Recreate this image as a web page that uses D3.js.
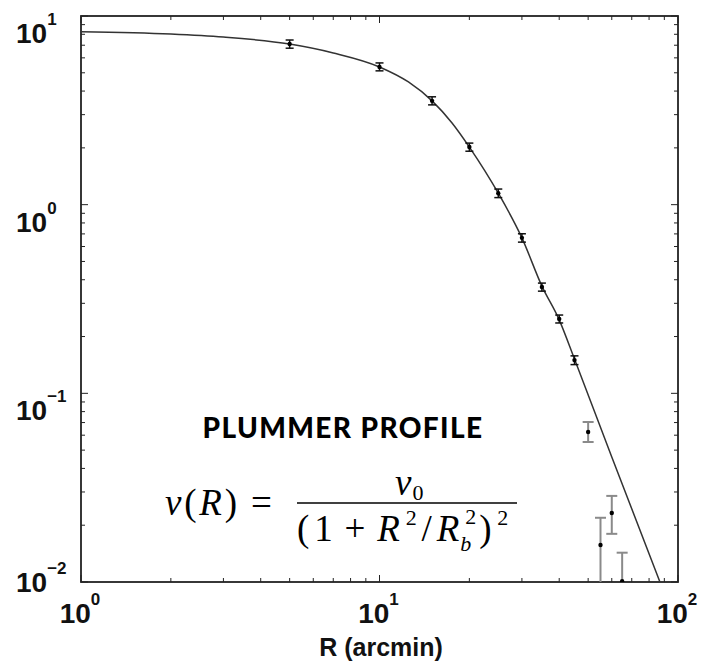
<!DOCTYPE html>
<html>
<head>
<meta charset="utf-8">
<script src="https://cdn.jsdelivr.net/npm/d3@7"></script>
<style>
  html, body { margin: 0; padding: 0; background: #fff; }
  svg { display: block; }
</style>
</head>
<body>
<svg id="chart" width="703" height="667"></svg>
<script>
// Observed surface density profile (radius in arcmin)
const radii     = [5, 10, 15, 20, 25, 30, 35, 40, 45, 50, 55, 60, 65];
const density   = [7.1, 5.37, 3.55, 2.02, 1.15, 0.667, 0.366, 0.248, 0.150, 0.0624, 0.0157, 0.0232, 0.0101];
const errLower  = [6.75, 5.12, 3.38, 1.92, 1.09, 0.633, 0.348, 0.236, 0.142, 0.0552, 0.001, 0.0180, 0.001];
const errUpper  = [7.46, 5.64, 3.73, 2.12, 1.21, 0.701, 0.384, 0.260, 0.158, 0.0705, 0.0219, 0.0286, 0.0143];
// Points from this radius outward carry grey error bars
const faintFrom = 50;

// Fitted Plummer model, sampled along the curve
const modelR   = [1, 2, 3, 5, 7, 10, 12.5, 15, 17.5, 20, 25, 30, 35, 40, 45, 60, 87];
const modelNu  = [8.26, 8.03, 7.74, 7.1, 6.37, 5.37, 4.47, 3.55, 2.71, 2.02, 1.15, 0.667, 0.37, 0.245, 0.152, 0.046, 0.01];

// Decade labels
const xDecades = [0, 1, 2];
const yDecades = [-2, -1, 0, 1];
const xTitle = "R (arcmin)";
const profileTitle = "PLUMMER PROFILE";

const svg = d3.select("#chart");
const m = { left: 81, top: 16, right: 678, bottom: 582 };

const x = d3.scaleLog().domain([1, 100]).range([m.left, m.right]);
const y = d3.scaleLog().domain([0.01, 10]).range([m.bottom, m.top]);

svg.append("defs").append("clipPath").attr("id", "plot-clip")
  .append("rect")
  .attr("x", m.left).attr("y", m.top)
  .attr("width", m.right - m.left).attr("height", m.bottom - m.top);

// Ticks on all four sides, pointing inward
const tickG = svg.append("g").attr("stroke", "#222").attr("stroke-width", 1);
const isMajor = v => Math.abs(Math.log10(v) - Math.round(Math.log10(v))) < 1e-9;
x.ticks().forEach(v => {
  const px = x(v), len = isMajor(v) ? 7 : 4;
  tickG.append("line").attr("x1", px).attr("x2", px).attr("y1", m.bottom).attr("y2", m.bottom - len);
  tickG.append("line").attr("x1", px).attr("x2", px).attr("y1", m.top).attr("y2", m.top + len);
});
y.ticks().forEach(v => {
  const py = y(v), len = isMajor(v) ? 7 : 4;
  tickG.append("line").attr("x1", m.left).attr("x2", m.left + len).attr("y1", py).attr("y2", py);
  tickG.append("line").attr("x1", m.right).attr("x2", m.right - len).attr("y1", py).attr("y2", py);
});

// Frame
svg.append("rect")
  .attr("x", m.left).attr("y", m.top)
  .attr("width", m.right - m.left).attr("height", m.bottom - m.top)
  .attr("fill", "none").attr("stroke", "#222").attr("stroke-width", 1.8);

const plot = svg.append("g").attr("clip-path", "url(#plot-clip)");

// Model curve
const line = d3.line()
  .x(d => x(d))
  .y((d, i) => y(modelNu[i]))
  .curve(d3.curveMonotoneX);
plot.append("path")
  .attr("d", line(modelR))
  .attr("fill", "none")
  .attr("stroke", "#333")
  .attr("stroke-width", 1.5);

// Error bars and points
radii.forEach((r, i) => {
  const px = x(r);
  const faint = r >= faintFrom;
  const capW = faint ? 5.5 : 4;
  const g = plot.append("g")
    .attr("stroke", faint ? "#8a8a8a" : "#111")
    .attr("stroke-width", faint ? 2 : 1.5);
  g.append("line").attr("x1", px).attr("x2", px).attr("y1", y(errLower[i])).attr("y2", y(errUpper[i]));
  g.append("line").attr("x1", px - capW).attr("x2", px + capW).attr("y1", y(errUpper[i])).attr("y2", y(errUpper[i]));
  g.append("line").attr("x1", px - capW).attr("x2", px + capW).attr("y1", y(errLower[i])).attr("y2", y(errLower[i]));
  plot.append("circle").attr("cx", px).attr("cy", y(density[i])).attr("r", 2.2).attr("fill", "#000");
});

// Axis labels as powers of ten
const labelFont = "'Liberation Sans', Arial, sans-serif";
const minus = "\u2212";
xDecades.forEach(e => {
  const t = svg.append("text")
    .attr("x", x(Math.pow(10, e)) - 1).attr("y", 623)
    .attr("text-anchor", "middle")
    .attr("font-family", labelFont).attr("font-weight", "bold")
    .attr("font-size", 28).attr("fill", "#111");
  t.append("tspan").text("10");
  t.append("tspan").attr("font-size", 17).attr("dy", -18).text(e);
});
yDecades.forEach(e => {
  // the lowest label is lifted clear of the x-axis labels
  const base = e === -2 ? y(Math.pow(10, e)) + 10 : y(Math.pow(10, e)) + 27;
  const t = svg.append("text")
    .attr("x", 16).attr("y", base)
    .attr("font-family", labelFont).attr("font-weight", "bold")
    .attr("font-size", 28).attr("fill", "#111");
  t.append("tspan").text("10");
  t.append("tspan").attr("font-size", 17).attr("dy", -18).text(e < 0 ? minus + (-e) : e);
});

svg.append("text")
  .attr("x", 381).attr("y", 656)
  .attr("text-anchor", "middle")
  .attr("font-family", labelFont).attr("font-weight", "bold")
  .attr("font-size", 25).attr("fill", "#111")
  .text(xTitle);

// Profile name
svg.append("text")
  .attr("x", 343).attr("y", 438)
  .attr("text-anchor", "middle")
  .attr("font-family", "Lato, 'Open Sans', sans-serif").attr("font-weight", 900)
  .attr("font-size", 28).attr("letter-spacing", 1.4).attr("fill", "#000")
  .text(profileTitle);

// Formula  nu(R) = nu_0 / (1 + R^2/R_b^2)^2
const eq = svg.append("g").attr("font-family", "'Liberation Serif', 'DejaVu Serif', serif").attr("fill", "#000");
const big = 37, small = 22;

// spread a text's glyphs so the run fills the given width
function fitWidth(sel, width) {
  const node = sel.node();
  const natural = node.getComputedTextLength();
  const n = node.getNumberOfChars();
  if (n > 1) sel.attr("letter-spacing", (width - natural) / (n - 1));
}

const lhs = eq.append("text").attr("x", 165).attr("y", 515).attr("font-size", big);
lhs.append("tspan").attr("font-style", "italic").text("\u03BD");
lhs.append("tspan").text("(");
lhs.append("tspan").attr("font-style", "italic").text("R");
lhs.append("tspan").text(")");
fitWidth(lhs, 72);

eq.append("text").attr("x", 251).attr("y", 515).attr("font-size", big).text("=");

eq.append("line").attr("x1", 297).attr("x2", 517).attr("y1", 503).attr("y2", 503)
  .attr("stroke", "#000").attr("stroke-width", 1.4);

const num = eq.append("text").attr("x", 395).attr("y", 495).attr("font-size", big);
num.append("tspan").attr("font-style", "italic").text("\u03BD");
num.append("tspan").attr("font-size", small).attr("dy", 5).attr("dx", 1).text("0");

const den = eq.append("text").attr("x", 297).attr("y", 541).attr("font-size", big);
den.append("tspan").text("(1");
den.append("tspan").attr("dx", 7).text("+");
den.append("tspan").attr("dx", 7).attr("font-style", "italic").text("R");
den.append("tspan").attr("font-size", small).attr("dx", 1).attr("dy", -16).text("2");
den.append("tspan").attr("dy", 16).text("/");
den.append("tspan").attr("font-style", "italic").text("R");
const sup2 = den.append("tspan").attr("font-size", small).attr("dx", 1).attr("dy", -17).text("2");
const sub = den.append("tspan").attr("font-size", small).attr("font-style", "italic").attr("dy", 27).text("b");
den.append("tspan").attr("dx", 3).attr("dy", -10).text(")");
den.append("tspan").attr("font-size", small).attr("dx", 1).attr("dy", -16).text("2");
fitWidth(den, 212);
// stack the subscript under the superscript
const ls = +den.attr("letter-spacing") || 0;
sub.attr("dx", -(sup2.node().getComputedTextLength() + ls));
</script>
</body>
</html>
